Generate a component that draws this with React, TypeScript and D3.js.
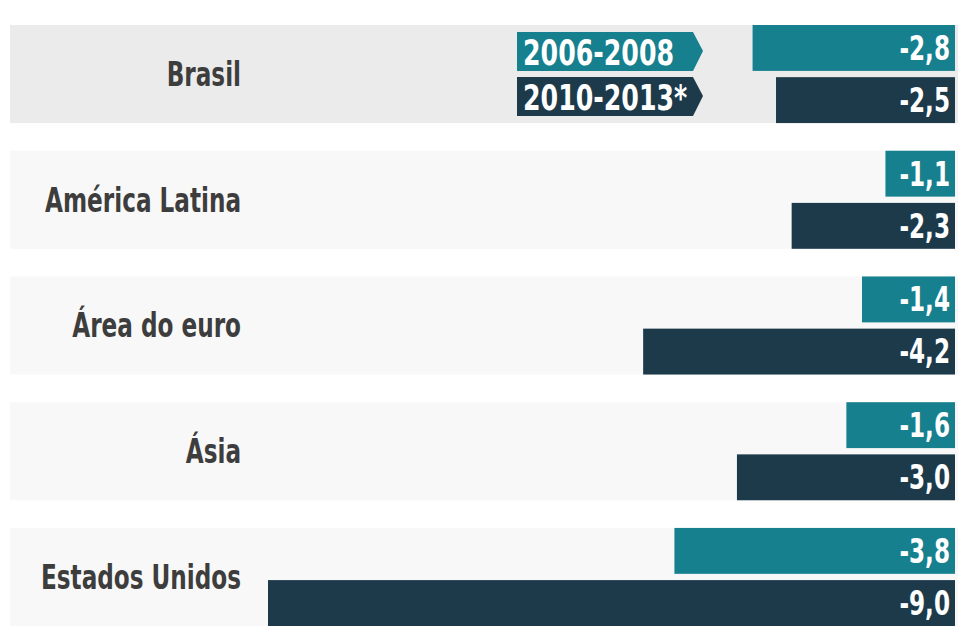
import React, { useEffect, useRef } from 'react';
import * as d3 from 'd3';

const regions = ['Brasil', 'América Latina', 'Área do euro', 'Ásia', 'Estados Unidos'];
const periods = ['2006-2008', '2010-2013*'];
const values2006 = [-2.8, -1.1, -1.4, -1.6, -3.8];
const values2010 = [-2.5, -2.3, -4.2, -3.0, -9.0];

const colors = ['#16808f', '#1d3a4b'];
const FONT = "'DejaVu Sans Condensed', 'DejaVu Sans', sans-serif";
// the source type is a condensed face, so squeeze the glyphs horizontally
const SQUEEZE = 0.78;

const App = () => {
  const svgRef = useRef<SVGSVGElement>(null);

  useEffect(() => {
    const svg = d3.select(svgRef.current);
    svg.selectAll('*').remove();

    const rows = regions.map((r, i) => ({ region: r, vals: [values2006[i], values2010[i]] }));

    const y = d3.scaleBand().domain(regions).range([25, 626]).paddingInner(0.22).paddingOuter(0);
    const ySub = d3.scaleBand().domain(periods).range([0, y.bandwidth()]).paddingInner(0.12);
    const x = d3.scaleLinear().domain([-9, -0.21]).range([268, 955]);
    const right = x.range()[1];

    // row backgrounds
    svg.selectAll('.bg')
      .data(rows)
      .enter()
      .append('rect')
      .attr('x', 10)
      .attr('y', d => y(d.region))
      .attr('width', 948)
      .attr('height', y.bandwidth())
      .attr('fill', (d, i) => (i === 0 ? '#ebebeb' : '#f8f8f8'));

    // region labels
    svg.selectAll('.lbl')
      .data(rows)
      .enter()
      .append('text')
      .attr('transform', d => `translate(241,${y(d.region) + y.bandwidth() / 2}) scale(${SQUEEZE},1)`)
      .attr('dy', '0.36em')
      .attr('text-anchor', 'end')
      .attr('fill', '#3d3d3d')
      .style('font-family', FONT)
      .style('font-weight', 'bold')
      .style('font-size', '33px')
      .text(d => d.region);

    const g = svg.selectAll('.row')
      .data(rows)
      .enter()
      .append('g')
      .attr('transform', d => `translate(0,${y(d.region)})`);

    const bars = g.selectAll('g.bar')
      .data(d => d.vals.map((v, i) => ({ period: periods[i], v, i })))
      .enter()
      .append('g');

    bars.append('rect')
      .attr('x', d => x(d.v))
      .attr('y', d => ySub(d.period))
      .attr('width', d => right - x(d.v))
      .attr('height', ySub.bandwidth())
      .attr('fill', d => colors[d.i]);

    bars.append('text')
      .attr('transform', d => `translate(${right - 5},${ySub(d.period) + ySub.bandwidth() / 2}) scale(${SQUEEZE},1)`)
      .attr('dy', '0.36em')
      .attr('text-anchor', 'end')
      .attr('fill', '#ffffff')
      .style('font-family', FONT)
      .style('font-weight', 'bold')
      .style('font-size', '33px')
      .text(d => d3.format('.1f')(d.v).replace('.', ',').replace('−', '-'));

    // legend
    const legY = [32, 77];
    const leg = svg.selectAll('.leg')
      .data(periods)
      .enter()
      .append('g')
      .attr('transform', (d, i) => `translate(517,${legY[i]})`);

    leg.append('path')
      .attr('d', 'M0,0H176L186,19L176,39H0Z')
      .attr('fill', (d, i) => colors[i]);

    leg.append('text')
      .attr('transform', `translate(6,20) scale(${SQUEEZE},1)`)
      .attr('dy', '0.36em')
      .attr('fill', '#ffffff')
      .style('font-family', FONT)
      .style('font-weight', 'bold')
      .style('font-size', '36px')
      .text(d => d);
  }, []);

  return (
    <svg ref={svgRef} width={961} height={637} style={{ position: 'absolute', left: 0, top: 0, background: '#fff' }} />
  );
};

export default App;
